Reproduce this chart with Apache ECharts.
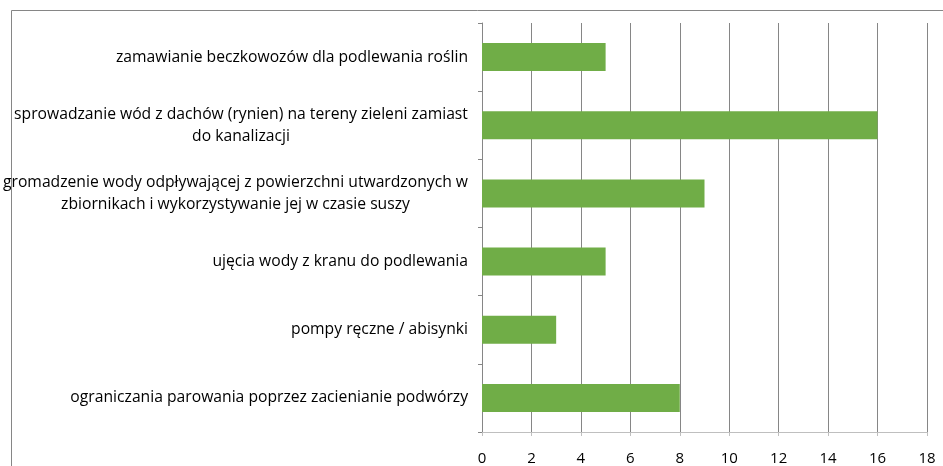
<!DOCTYPE html>
<html>
<head>
<meta charset="utf-8">
<script src="https://cdn.jsdelivr.net/npm/echarts@6/dist/echarts.min.js"></script>
<style>
    html, body { margin: 0; padding: 0; background: #fff; }
    #main { width: 943px; height: 466px; }
</style>
</head>
<body>
<div id="main"></div>
<script>
    // categories, top to bottom
    var categories = [
        'zamawianie beczkowozów dla podlewania roślin',
        'sprowadzanie wód z dachów (rynien) na tereny zieleni zamiast\ndo kanalizacji',
        'gromadzenie wody odpływającej z powierzchni utwardzonych w\nzbiornikach i wykorzystywanie jej w czasie suszy',
        'ujęcia wody z kranu do podlewania',
        'pompy ręczne / abisynki',
        'ograniczania parowania poprzez zacienianie podwórzy'
    ];
    var values = [5, 16, 9, 5, 3, 8];
    var xTicks = [0, 2, 4, 6, 8, 10, 12, 14, 16, 18];

    var FONT = 'Open Sans';
    var SIZE = 15.7;
    var cv = document.createElement('canvas').getContext('2d');
    cv.font = SIZE + 'px "' + FONT + '"';

    function blockWidth(c) {
        var w = 0;
        c.split('\n').forEach(function (l) { w = Math.max(w, cv.measureText(l).width); });
        return Math.round(w);
    }

    // multi-line labels: lines centred inside a block that is right-aligned
    function fmt(value) {
        var lines = value.split('\n');
        if (lines.length === 1) return value;
        var w = blockWidth(value);
        return lines.map(function (l) { return '{c' + w + '|' + l + '}'; }).join('\n');
    }
    var rich = {};
    categories.forEach(function (c) {
        if (c.indexOf('\n') >= 0) {
            var w = blockWidth(c);
            rich['c' + w] = { width: w, align: 'center', fontFamily: FONT, fontSize: SIZE, color: '#000', lineHeight: 22 };
        }
    });

    var myChart = echarts.init(document.getElementById('main'));
    var option = {
        animation: false,
        grid: { left: 482, right: 16, top: 23, bottom: 33, containLabel: false },
        graphic: [{
            type: 'rect',
            shape: { x: 11.5, y: 10.5, width: 1200, height: 1200 },
            style: { fill: 'none', stroke: '#868686', lineWidth: 1 },
            silent: true
        }],
        xAxis: {
            type: 'value',
            min: xTicks[0],
            max: xTicks[xTicks.length - 1],
            interval: xTicks[1] - xTicks[0],
            axisLine: { show: true, lineStyle: { color: '#bfbfbf' } },
            axisTick: { show: true, length: 4, lineStyle: { color: '#bfbfbf' } },
            splitLine: { show: true, lineStyle: { color: '#868686' } },
            axisLabel: { margin: 19, fontFamily: FONT, fontSize: 15, color: '#000' }
        },
        yAxis: {
            type: 'category',
            inverse: true,
            data: categories,
            axisLine: { show: true, lineStyle: { color: '#868686' } },
            axisTick: { show: true, length: 4, lineStyle: { color: '#868686' } },
            axisLabel: {
                margin: 14, fontFamily: FONT, fontSize: SIZE, color: '#000', lineHeight: 22,
                formatter: fmt, rich: rich
            }
        },
        series: [{
            type: 'bar',
            data: values,
            barCategoryGap: '59%',
            itemStyle: { color: '#70ad47' }
        }]
    };
    myChart.setOption(option);
</script>
</body>
</html>
